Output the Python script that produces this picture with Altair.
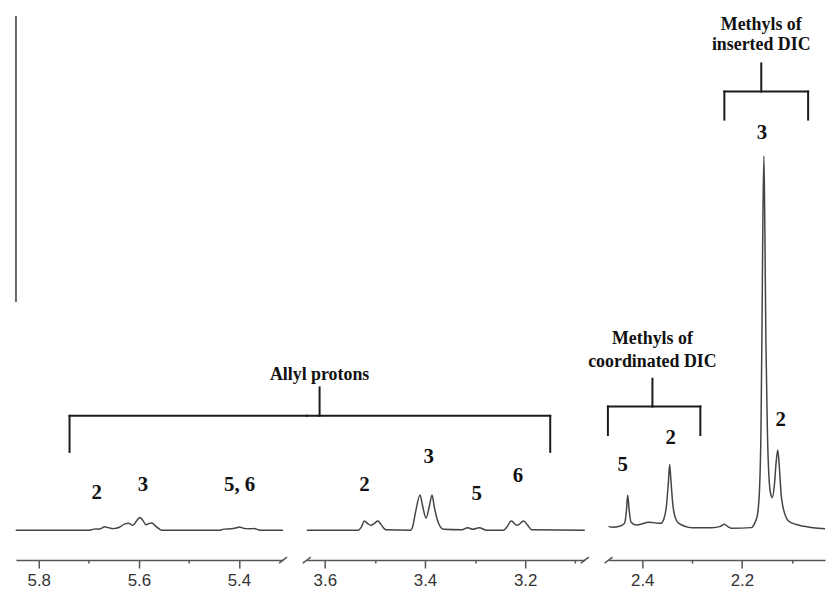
import altair as alt
import pandas as pd

# ---------------- spectrum traces (ppm, intensity) ----------------
P1_PPM = [5.846, 5.700, 5.690, 5.678, 5.668, 5.660, 5.651, 5.640, 5.628, 5.621, 5.612,
          5.604, 5.598, 5.592, 5.586, 5.579, 5.574, 5.566, 5.558, 5.554, 5.440, 5.430,
          5.415, 5.405, 5.399, 5.392, 5.387, 5.378, 5.370, 5.362, 5.354, 5.312]
P1_INT = [0, 0, 1.2, 1.4, 3.6, 2.5, 1.7, 2.8, 6.5, 7.2, 5.0,
          10, 13, 10, 5.7, 7, 7.3, 4, 1, 0, 0, 1.2,
          1.5, 2.5, 3.3, 2.2, 1.7, 1.6, 1.8, 0.6, 0, 0]

P2_PPM = [3.636, 3.533, 3.5275, 3.521, 3.515, 3.508, 3.501, 3.494, 3.488, 3.478, 3.429,
          3.425, 3.419, 3.410, 3.405, 3.398, 3.391, 3.386, 3.382, 3.376, 3.370, 3.363,
          3.326, 3.315, 3.304, 3.292, 3.277, 3.244, 3.237, 3.228, 3.216, 3.203, 3.195,
          3.187, 3.081]
P2_INT = [0, 0, 3, 9.3, 7, 5, 7, 9.3, 6, 0.5, 0,
          3, 18, 35.7, 25, 12.3, 25, 35.7, 25, 11.7, 4, 1,
          0.5, 2.7, 1, 2.7, 0, 0, 3, 9.3, 5, 9.3, 5,
          0.5, 0]

P3_PPM = [2.4675, 2.4595, 2.4456, 2.4357, 2.4317, 2.4292, 2.4262, 2.4224, 2.4125, 2.3861,
          2.3629, 2.3563, 2.3514, 2.3474, 2.3450, 2.3425, 2.3385, 2.3345, 2.3266, 2.3002,
          2.2605, 2.2433, 2.2353, 2.2274, 2.2208, 2.1812, 2.1738, 2.1692, 2.1649, 2.1619,
          2.1599, 2.1579, 2.1560, 2.1540, 2.1520, 2.1490, 2.1460, 2.1421, 2.1391, 2.1351,
          2.1312, 2.1282, 2.1252, 2.1212, 2.1183, 2.1123, 2.1050, 2.0752, 2.0334]
P3_INT = [4, 3, 4, 7, 20, 35.3, 20, 8, 5.3, 8,
          7, 12, 25, 50, 66.3, 50, 25, 14, 7, 2.7,
          2.7, 4, 6, 3.5, 2, 2.7, 8, 15, 40, 100,
          200, 320, 377, 300, 190, 100, 55, 36, 33, 45,
          70, 81, 65, 35, 25, 14, 8.7, 4, 1.5]

# ---------------- axis domains and ticks ----------------
P1_DOMAIN = [5.312, 5.8456]
P2_DOMAIN = [3.081, 3.636]
P3_DOMAIN = [2.0334, 2.4675]
P1_TICKS = [5.8, 5.7, 5.6, 5.5, 5.4]
P2_TICKS = [3.6, 3.5, 3.4, 3.3, 3.2, 3.1]
P3_TICKS = [2.4, 2.3, 2.2, 2.1]
Y_DOMAIN = [-30, 524]

# ---------------- peak labels ----------------
PEAK_PANEL = [1, 1, 1, 2, 2, 2, 2, 3, 3, 3, 3]
PEAK_TEXT = ["2", "3", "5, 6", "2", "3", "5", "6", "5", "2", "3", "2"]
PEAK_PPM = [5.6843, 5.5917, 5.3986, 3.5209, 3.3925, 3.2968, 3.2146, 2.4391, 2.3431, 2.1599, 2.1222]
PEAK_INT = [37.6, 46, 46, 45.3, 73.7, 37, 54.7, 65.3, 93, 399.7, 111]

# ---------------- bracket segments ----------------
SEG_PANEL = [1, 1, 2, 2, 2, 3, 3, 3, 3, 3, 3, 3, 3]
SEG_X1 = [5.7385, 5.7385, 3.636, 3.150, 3.6105, 2.4689, 2.4689, 2.2835, 2.3796, 2.2353, 2.2353, 2.0673, 2.1613]
SEG_X2 = [5.2643, 5.7385, 3.150, 3.150, 3.6105, 2.2835, 2.4689, 2.2835, 2.3796, 2.0673, 2.2353, 2.0673, 2.1613]
SEG_Y1 = [115.3, 115.3, 115.3, 115.3, 144, 124.7, 124.7, 124.7, 152.7, 442, 442, 442, 470.3]
SEG_Y2 = [115.3, 79, 115.3, 79, 115.3, 124.7, 96, 96, 124.7, 442, 413.7, 413.7, 442]

# ---------------- group titles ----------------
GT_PANEL = [2, 3, 3, 3, 3]
GT_TEXT = ["Allyl protons", "Methyls of", "coordinated DIC", "Methyls of", "inserted DIC"]
GT_PPM = [3.6105, 2.3796, 2.3796, 2.1613, 2.1613]
GT_INT = [156, 192.7, 169.3, 509.3, 488.7]

# left vertical line (fragment of the original frame)
VL_PPM = [5.8456]
VL_Y1 = [230]
VL_Y2 = [518]

# axis break marks
BRK_PANEL = [1, 2, 2, 3]
BRK_PPM = [5.312, 3.636, 3.081, 2.4675]

H = 554
WIDTHS = {1: 269, 2: 280, 3: 218}

peaks = pd.DataFrame({"panel": PEAK_PANEL, "text": PEAK_TEXT, "ppm": PEAK_PPM, "v": PEAK_INT})
segs = pd.DataFrame({"panel": SEG_PANEL, "ppm": SEG_X1, "ppm2": SEG_X2, "v": SEG_Y1, "v2": SEG_Y2})
gts = pd.DataFrame({"panel": GT_PANEL, "text": GT_TEXT, "ppm": GT_PPM, "v": GT_INT})
brks = pd.DataFrame({"panel": BRK_PANEL, "ppm": BRK_PPM})

SERIF = "Liberation Serif"


def panel(n, ppm, inten, domain, ticks):
    spec = pd.DataFrame({"ppm": ppm, "v": inten})
    xs = alt.Scale(domain=domain, reverse=True, nice=False, zero=False)
    ys = alt.Scale(domain=Y_DOMAIN, nice=False, zero=False)
    axis = alt.Axis(
        values=ticks,
        labelExpr="(round(datum.value*10) % 2 == 0) ? format(datum.value, '.1f') : ''",
        tickSize={"condition": {"test": "round(datum.value*10) % 2 != 0", "value": 3}, "value": 8},
        domainColor="#555", domainWidth=1.5, tickColor="#555", tickWidth=1.5,
        labelFont="Liberation Sans", labelFontSize=17, labelColor="#333",
        labelPadding=5, grid=False, title=None, labelFlush=False, labelOverlap=False,
    )
    line = alt.Chart(spec).mark_line(color="#444", strokeWidth=1.5, interpolate="monotone").encode(
        x=alt.X("ppm:Q", scale=xs, axis=axis),
        y=alt.Y("v:Q", scale=ys, axis=None),
        order=alt.Order("ppm:Q", sort="descending"),
    )
    layers = [line]
    pk = peaks[peaks.panel == n]
    layers.append(alt.Chart(pk).mark_text(font=SERIF, fontWeight="bold", fontSize=21,
                                          baseline="middle", align="center", color="#111").encode(
        x="ppm:Q", y="v:Q", text="text:N"))
    sg = segs[segs.panel == n]
    layers.append(alt.Chart(sg).mark_rule(color="#1a1a1a", strokeWidth=2, strokeCap="square").encode(
        x="ppm:Q", x2="ppm2:Q", y="v:Q", y2="v2:Q"))
    gt = gts[gts.panel == n]
    if len(gt):
        layers.append(alt.Chart(gt).mark_text(font=SERIF, fontWeight="bold", fontSize=18,
                                              baseline="middle", align="center", color="#111").encode(
            x="ppm:Q", y="v:Q", text="text:N"))
    if n == 1:
        vl = pd.DataFrame({"ppm": VL_PPM, "v": VL_Y1, "v2": VL_Y2})
        layers.append(alt.Chart(vl).mark_rule(color="#666", strokeWidth=2).encode(
            x="ppm:Q", y="v:Q", y2="v2:Q"))
    bk = brks[brks.panel == n]
    layers.append(alt.Chart(bk).transform_calculate(
        a="datum.ppm + 0.008", b="datum.ppm - 0.008"
    ).mark_rule(color="#555", strokeWidth=1.5).encode(
        x="a:Q", x2="b:Q", y=alt.value(H + 3), y2=alt.value(H - 3)))
    return alt.layer(*layers).properties(width=WIDTHS[n], height=H)


p1 = panel(1, P1_PPM, P1_INT, P1_DOMAIN, P1_TICKS)
p2 = panel(2, P2_PPM, P2_INT, P2_DOMAIN, P2_TICKS)
p3 = panel(3, P3_PPM, P3_INT, P3_DOMAIN, P3_TICKS)

chart = alt.hconcat(p1, p2, p3, spacing=24, bounds="flush").properties(
    padding={"left": 4, "top": 0, "right": 0, "bottom": 0},
    background="white",
).configure_view(stroke=None, strokeWidth=0)

chart.save("out.html", embed_options={"renderer": "svg", "actions": False})
